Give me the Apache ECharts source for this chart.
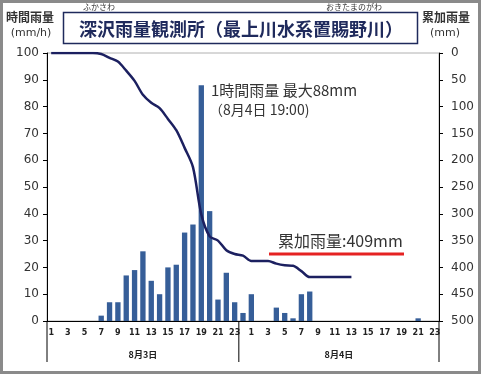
<!DOCTYPE html>
<html><head><meta charset="utf-8">
<script src="https://cdn.jsdelivr.net/npm/echarts@6/dist/echarts.min.js"></script>
<style>html,body{margin:0;padding:0;background:#fff}#c{width:481px;height:374px}</style>
</head><body><div id="c"></div>
<script>
// ---- data ----
const dayLabels = ['8月3日', '8月4日'];
const hoursDay1 = ['1','2','3','4','5','6','7','8','9','10','11','12','13','14','15','16','17','18','19','20','21','22','23'];
const hoursDay2 = ['0','1','2','3','4','5','6','7','8','9','10','11','12','13','14','15','16','17','18','19','20','21','22','23'];
// hourly rainfall (mm/h)
const rainDay1 = [0,0,0,0,0,0,2,7,7,17,19,26,15,10,20,21,33,36,88,41,8,18,7];
const rainDay2 = [3,10,0,0,5,3,1,10,11,0,0,0,0,0,0,0,0,0,0,0,0,1,0,0];
// cumulative rainfall (mm)
const cumDay1 = [0,0,0,0,0,0,2,9,16,33,52,78,93,103,123,144,177,213,301,342,350,368,375];
const cumDay2 = [378,388,388,388,393,396,397,407,418,418,418,418,418,418];
const titleText = '深沢雨量観測所（最上川水系置賜野川）';
const rubyLeft = 'ふかさわ';
const rubyRight = 'おきたまのがわ';
const leftAxisTitle = ['時間雨量', '(mm/h)'];
const rightAxisTitle = ['累加雨量', '(mm)'];
const maxNote = ['1時間雨量 最大88mm', '（8月4日 19:00)'];
const totalNote = '累加雨量:409mm';

// ---- build ----
const categories = hoursDay1.map(h => '1|' + h).concat(hoursDay2.map(h => '2|' + h));
const rain = rainDay1.concat(rainDay2);
const cum = cumDay1.concat(cumDay2);
const FONT = '"Noto Sans CJK JP", "DejaVu Sans", sans-serif';

const chart = echarts.init(document.getElementById('c'), null, {renderer: 'canvas'});
const option = {
  animation: false,
  backgroundColor: '#fff',
  textStyle: {fontFamily: FONT},
  grid: {left: 47, right: 42, top: 53, bottom: 53, show: true, borderColor: '#b0b0b0', borderWidth: 1},
  xAxis: {
    type: 'category', data: categories, boundaryGap: true,
    axisLine: {lineStyle: {color: '#000', width: 1}},
    axisTick: {show: false},
    axisLabel: {
      interval: (i, v) => (+v.split('|')[1]) % 2 === 1,
      formatter: v => v.split('|')[1],
      fontSize: 8, color: '#222', margin: 8, fontFamily: 'DejaVu Sans', fontWeight: 'bold'
    }
  },
  yAxis: [
    {type: 'value', min: 0, max: 100, interval: 10,
     axisLine: {show: true, lineStyle: {color: '#000'}},
     axisTick: {show: true, length: 4, lineStyle: {color: '#000'}},
     splitLine: {show: false},
     axisLabel: {fontSize: 12, color: '#333', margin: 8, fontFamily: 'DejaVu Sans'}},
    {type: 'value', min: 0, max: 500, interval: 50, inverse: true, position: 'right',
     axisLine: {show: true, lineStyle: {color: '#000'}},
     axisTick: {show: true, length: 4, lineStyle: {color: '#000'}},
     splitLine: {show: false},
     axisLabel: {fontSize: 12, color: '#333', margin: 12, fontFamily: 'DejaVu Sans'}}
  ],
  series: [
    {type: 'bar', data: rain, yAxisIndex: 0, barWidth: '64%',
     itemStyle: {color: '#365e98'}},
    {type: 'line', data: cum, yAxisIndex: 1, smooth: 0.3, symbol: 'none',
     lineStyle: {color: '#1c2060', width: 2.5}}
  ]
};
chart.setOption(option);

// decorations positioned through the chart's own scales
const cx = i => chart.convertToPixel({xAxisIndex: 0}, i);
const y0 = chart.convertToPixel({yAxisIndex: 0}, 0);
const step = cx(1) - cx(0);
const xLeft = cx(0) - step / 2;
const xRight = cx(categories.length - 1) + step / 2;
const xDiv = (cx(hoursDay1.length - 1) + cx(hoursDay1.length)) / 2;
const yBot = y0 + 41;
const vline = x => ({type: 'line', shape: {x1: x, y1: y0, x2: x, y2: yBot}, style: {stroke: '#000', lineWidth: 1}});
const txt = (x, y, t, size, opts) => Object.assign({type: 'text', x: x, y: y,
  style: Object.assign({text: t, fontSize: size, fontFamily: FONT, fill: '#333', align: 'center', verticalAlign: 'middle'}, opts || {})});

chart.setOption({graphic: [
  {type: 'rect', shape: {x: 1.5, y: 1.5, width: 478, height: 371}, style: {fill: null, stroke: '#8a8a8a', lineWidth: 3}},
  vline(xLeft), vline(xRight), vline(xDiv),
  txt((xLeft + xDiv) / 2, y0 + 34, dayLabels[0], 9, {fill: '#222', fontWeight: 'bold'}),
  txt((xDiv + xRight) / 2, y0 + 34, dayLabels[1], 9, {fill: '#222', fontWeight: 'bold'}),
  {type: 'rect', shape: {x: 63.5, y: 12.5, width: 354, height: 31}, style: {fill: '#fff', stroke: '#1f2a5c', lineWidth: 1.5}},
  txt(241, 29, titleText, 18, {fill: '#1f2a5c', fontWeight: 'bold'}),
  txt(99, 7, rubyLeft, 8, {fill: '#333'}),
  txt(354, 7, rubyRight, 8, {fill: '#333'}),
  txt(30, 17, leftAxisTitle[0], 12, {fill: '#333', fontWeight: 'bold'}),
  txt(31, 33, leftAxisTitle[1], 11, {fill: '#333', fontFamily: 'DejaVu Sans'}),
  txt(446, 17, rightAxisTitle[0], 12, {fill: '#333', fontWeight: 'bold'}),
  txt(445, 33, rightAxisTitle[1], 11, {fill: '#333', fontFamily: 'DejaVu Sans'}),
  txt(211, 90, maxNote[0], 15, {fill: '#333', align: 'left'}),
  txt(209, 110, maxNote[1], 14, {fill: '#333', align: 'left'}),
  txt(278, 241, totalNote, 16, {fill: '#333', align: 'left'}),
  {type: 'line', shape: {x1: 269, y1: 254, x2: 404, y2: 254}, style: {stroke: '#e52222', lineWidth: 3}}
]});
</script>
</body></html>
